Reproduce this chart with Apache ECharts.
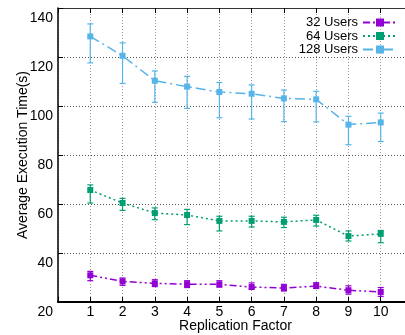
<!DOCTYPE html>
<html>
<head>
<meta charset="utf-8">
<script src="https://cdn.jsdelivr.net/npm/echarts@6/dist/echarts.min.js"></script>
<style>html,body{margin:0;padding:0;background:#fff}#c{width:405px;height:335px}</style>
</head>
<body>
<div id="c"></div>
<script>
var categories = [1, 2, 3, 4, 5, 6, 7, 8, 9, 10];
var users32 = [30.9, 28.4, 27.6, 27.3, 27.2, 26.1, 25.7, 26.5, 24.8, 24.1];
var users32Lo = [28.7, 26.8, 26.3, 25.9, 26.1, 25.3, 24.5, 25.6, 23.2, 22.3];
var users32Hi = [32.5, 29.8, 29.1, 28.7, 28.7, 27.8, 27.2, 27.9, 26.6, 25.9];
var users64 = [65.7, 60.4, 56.3, 55.5, 53.1, 53.1, 52.7, 53.5, 46.9, 47.8];
var users64Lo = [60.4, 57.4, 53.6, 51.6, 49.0, 50.6, 50.4, 51.0, 44.9, 44.2];
var users64Hi = [67.8, 62.3, 58.4, 57.8, 55.0, 55.0, 54.6, 55.4, 49.0, 49.2];
var users128 = [128.4, 120.5, 110.3, 107.9, 105.7, 105.0, 103.1, 102.7, 92.4, 93.3];
var users128Lo = [117.6, 109.2, 101.5, 99.0, 95.2, 94.7, 93.6, 93.5, 84.2, 85.5];
var users128Hi = [133.5, 125.8, 114.3, 112.1, 109.6, 108.6, 106.5, 106.0, 95.8, 97.1];
var seriesNames = ['32 Users', '64 Users', '128 Users'];
var yTicks = [20, 40, 60, 80, 100, 120, 140];

var colors = ['#9400d3', '#009e73', '#56b4e9'];
var dashes = [[7, 3, 2, 3, 2, 3], [2, 3], [10, 4, 2, 4]];
var vals = [users32, users64, users128];
var los = [users32Lo, users64Lo, users128Lo];
var his = [users32Hi, users64Hi, users128Hi];
var FONT = '"Liberation Sans", Arial, sans-serif';

var series = [];
for (var s = 0; s < 3; s++) {
  series.push({
    name: seriesNames[s],
    type: 'line',
    data: categories.map(function (c, i) { return [c, vals[s][i]]; }),
    symbol: 'rect',
    symbolSize: 6,
    itemStyle: { color: colors[s] },
    lineStyle: { color: colors[s], width: 1.5, type: dashes[s] },
    z: 5
  });
  (function (col) {
    series.push({
      name: seriesNames[s] + ' err',
      type: 'custom',
      data: categories.map(function (c, i) { return [c, los[s][i], his[s][i]]; }),
      renderItem: function (params, api) {
        var lo = api.coord([api.value(0), api.value(1)]);
        var hi = api.coord([api.value(0), api.value(2)]);
        var w = 3;
        var st = { stroke: col, lineWidth: 1.2 };
        return {
          type: 'group',
          children: [
            { type: 'line', shape: { x1: lo[0], y1: lo[1], x2: hi[0], y2: hi[1] }, style: st },
            { type: 'line', shape: { x1: lo[0] - w, y1: lo[1], x2: lo[0] + w, y2: lo[1] }, style: st },
            { type: 'line', shape: { x1: hi[0] - w, y1: hi[1], x2: hi[0] + w, y2: hi[1] }, style: st }
          ]
        };
      },
      encode: { x: 0, y: [1, 2] },
      z: 4
    });
  })(colors[s]);
}

var chart = echarts.init(document.getElementById('c'), null, { renderer: 'canvas' });
chart.setOption({
  animation: false,
  backgroundColor: '#fff',
  textStyle: { fontFamily: FONT },
  grid: { left: 58, top: 8, bottom: 33, width: 355, containLabel: false, outerBoundsMode: 'none' },
  legend: {
    data: seriesNames,
    orient: 'vertical',
    right: 7,
    top: 16,
    align: 'right',
    itemWidth: 34,
    itemHeight: 10,
    itemGap: 0.5,
    padding: 0,
    textStyle: { fontFamily: FONT, fontSize: 13, color: '#000' }
  },
  xAxis: [{
    type: 'value',
    min: 0, max: 11, interval: 1,
    name: 'Replication Factor',
    nameLocation: 'middle',
    nameGap: 17,
    nameMoveOverlap: false,
    nameTextStyle: { fontFamily: FONT, fontSize: 14, color: '#000' },
    axisLine: { show: true, onZero: false, lineStyle: { color: '#000', width: 2 } },
    axisTick: { show: true, inside: true, length: 5, lineStyle: { color: '#000' } },
    axisLabel: {
      fontFamily: FONT, fontSize: 14, color: '#000', margin: 3,
      formatter: function (v) { return categories.indexOf(v) >= 0 ? String(v) : ''; }
    },
    splitLine: { show: true, lineStyle: { color: '#999', type: [1, 2], width: 1 } }
  }, {
    type: 'value',
    position: 'top',
    min: 0, max: 11, interval: 1,
    axisLine: { show: true, lineStyle: { color: '#333', width: 1 } },
    axisTick: { show: true, inside: true, length: 5, lineStyle: { color: '#000' } },
    axisLabel: { show: false },
    splitLine: { show: false }
  }],
  yAxis: {
    type: 'value',
    min: 20, max: 140, interval: 20,
    name: 'Average Execution Time(s)',
    nameLocation: 'middle',
    nameGap: 28,
    nameMoveOverlap: false,
    nameTextStyle: { fontFamily: FONT, fontSize: 14, color: '#000' },
    axisLine: { show: true, lineStyle: { color: '#000', width: 1.5 } },
    axisTick: { show: true, inside: true, length: 5, lineStyle: { color: '#000' } },
    axisLabel: {
      fontFamily: FONT, fontSize: 14, color: '#000', margin: 5,
      verticalAlign: 'top', lineHeight: 20,
      formatter: function (v) { return yTicks.indexOf(v) >= 0 ? String(v) : ''; }
    },
    splitLine: { show: true, lineStyle: { color: '#555', type: [1, 2], width: 1 } }
  },
  series: series
});
</script>
</body>
</html>
